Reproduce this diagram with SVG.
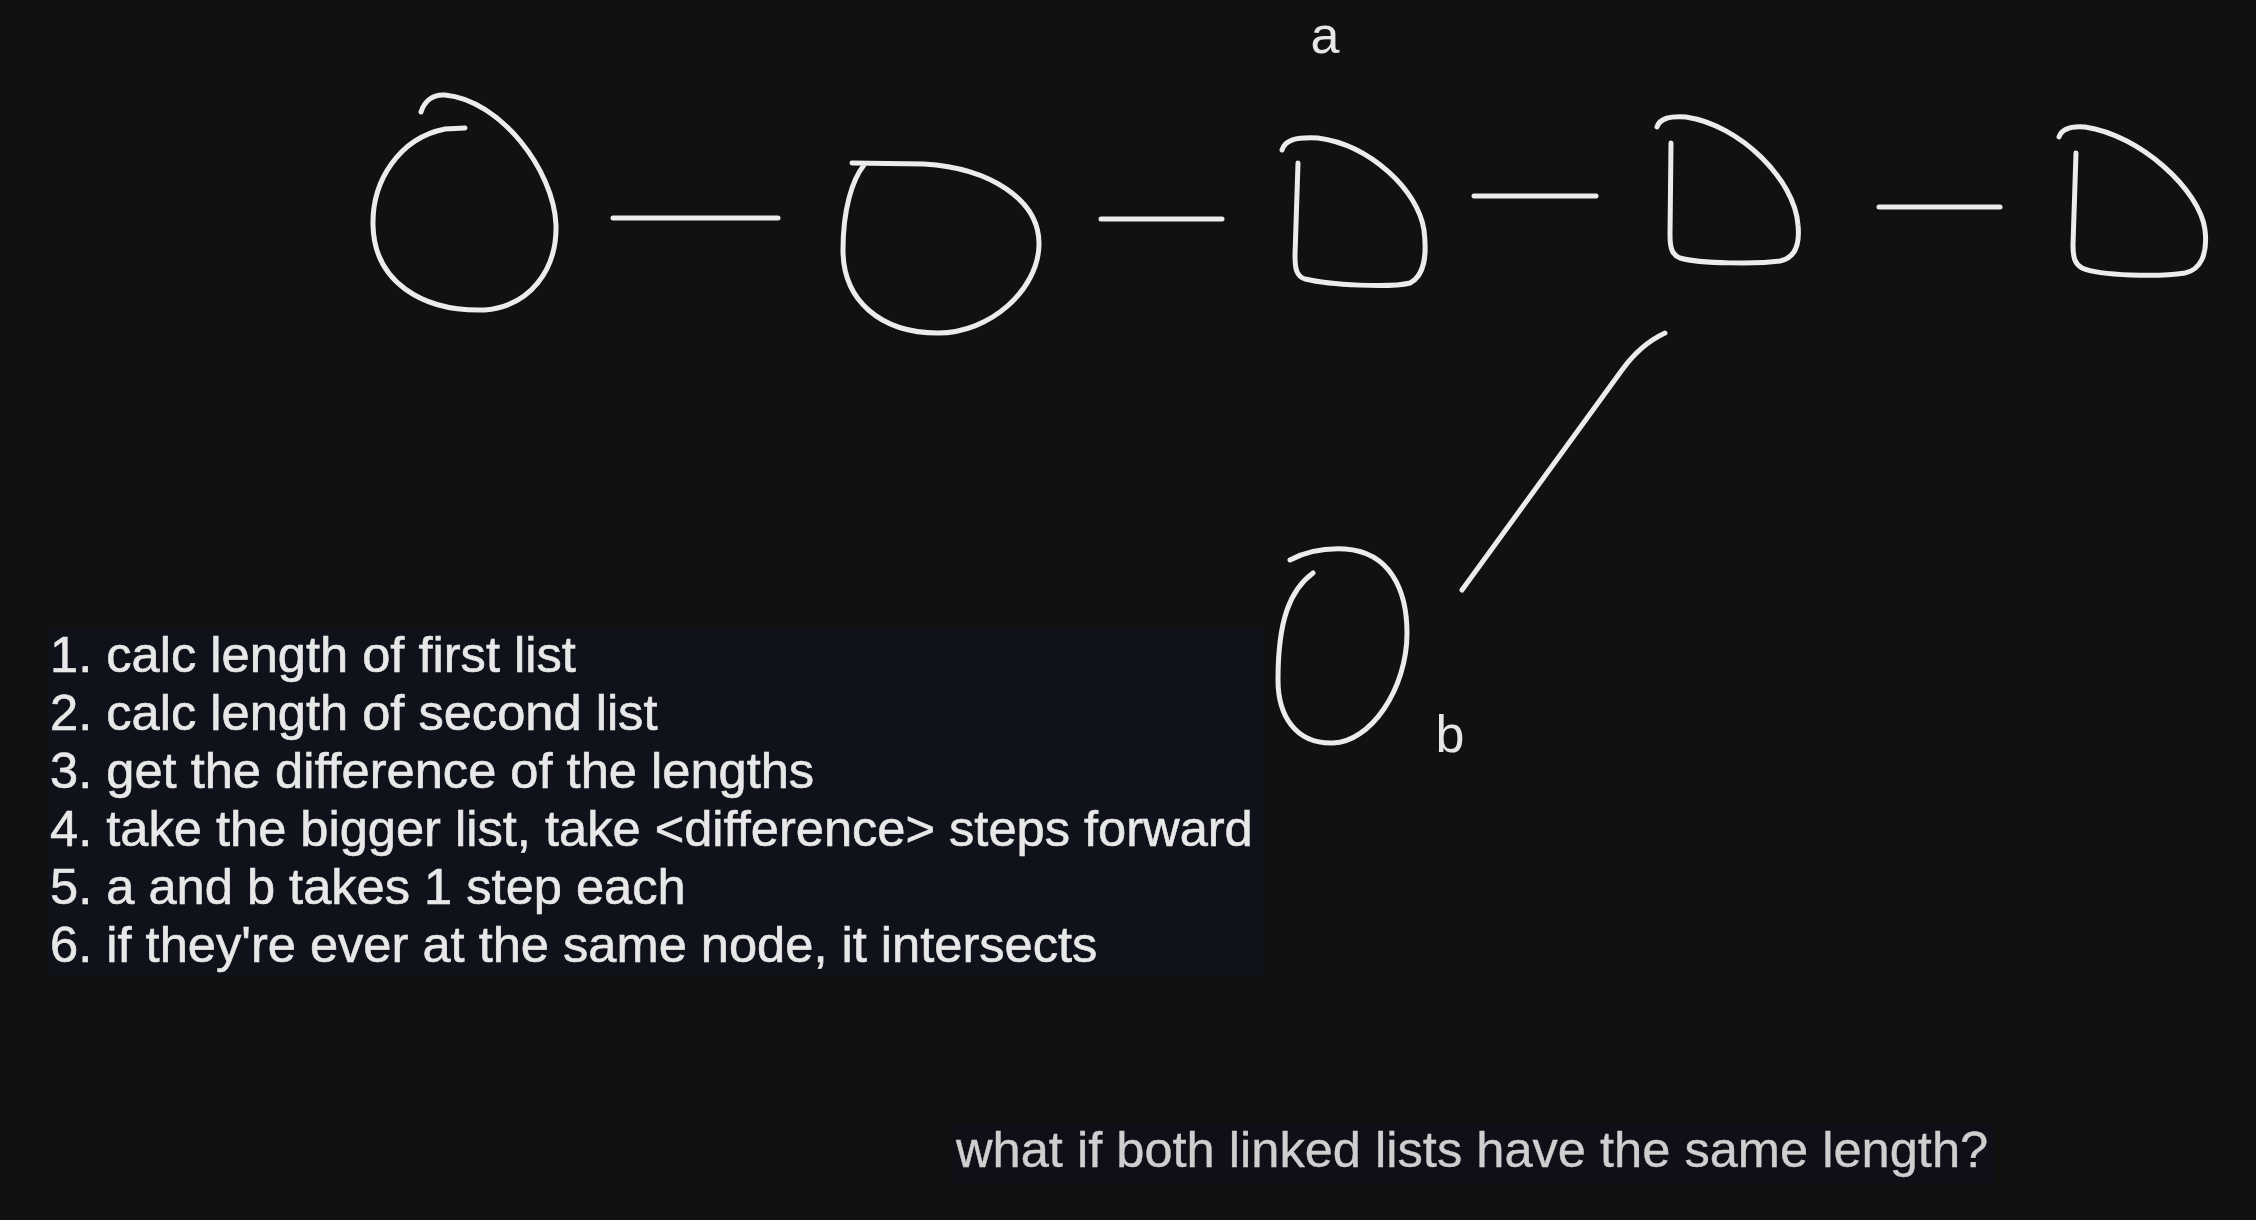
<svg xmlns="http://www.w3.org/2000/svg" width="2256" height="1220" viewBox="0 0 2256 1220">
<style>
.ink{fill:none;stroke:#ececec;stroke-width:5;stroke-linecap:round;stroke-linejoin:round}
.lbl{font-family:"Liberation Sans",Arial,sans-serif;font-size:52px;fill:#e6e6e6}
.step{font-family:"Liberation Sans",Arial,sans-serif;font-size:50.6px;fill:#e8e8e8;stroke:#e8e8e8;stroke-width:0.6}
.q{font-family:"Liberation Sans",Arial,sans-serif;font-size:50.6px;fill:#cfcfcf;stroke:#cfcfcf;stroke-width:0.4}
</style>
<rect width="2256" height="1220" fill="#111111"/>
<rect x="48" y="628" width="1216" height="348" fill="#0f121b"/>
<rect x="952" y="1124" width="1042" height="60" fill="#0f1017"/>
<g id="connectors">
<path class="ink" d="M613,218 L778,218"/>
<path class="ink" d="M1101,219 L1222,219"/>
<path class="ink" d="M1474,196 L1596,196"/>
<path class="ink" d="M1879,207 L2000,207"/>
<path class="ink" d="M1665,333 C1650,340 1635,352 1622,370 L1462,590"/>
</g>
<g id="node1"><path class="ink" d="M465,128 L445,129 C400,138 372,180 373,225 C374,280 420,312 485,310 C530,306 557,270 556,225 C554,170 500,100 445,95 C432,94 424,102 421,112"/></g>
<g id="node2"><path class="ink" d="M852,163 L924,164 C990,168 1040,200 1039,245 C1038,290 990,333 938,333 C880,333 843,300 843,250 C843,210 852,180 864,165"/></g>
<g id="node3"><path class="ink" d="M1282,150 C1285,140 1295,137 1318,138 C1370,145 1418,190 1424,230 C1427,255 1425,275 1410,283 C1390,288 1330,285 1305,279 C1296,276 1295,268 1295,255 L1298,163"/>
<text class="lbl" x="1325" y="53" text-anchor="middle">a</text></g>
<g id="node4"><path class="ink" d="M1657,127 C1660,118 1670,116 1686,117 C1740,125 1795,180 1798,225 C1800,245 1795,258 1780,261 C1760,264 1700,264 1680,258 C1672,255 1670,248 1670,235 L1671,143"/></g>
<g id="node5"><path class="ink" d="M2059,137 C2062,128 2072,126 2085,127 C2140,135 2200,190 2205,230 C2208,255 2200,270 2185,273 C2160,277 2100,276 2082,268 C2075,264 2073,258 2073,245 L2076,153"/></g>
<g id="nodeB"><path class="ink" d="M1290,560 C1305,552 1325,548 1345,549 C1390,552 1407,590 1407,633 C1407,690 1370,742 1333,743 C1295,744 1278,715 1278,680 C1278,620 1290,590 1313,573"/>
<text class="lbl" x="1450" y="752" text-anchor="middle">b</text></g>
<g id="steps">
<text class="step" x="50" y="672">1. calc length of first list</text>
<text class="step" x="50" y="730">2. calc length of second list</text>
<text class="step" x="50" y="788">3. get the difference of the lengths</text>
<text class="step" x="50" y="846">4. take the bigger list, take &lt;difference&gt; steps forward</text>
<text class="step" x="50" y="904">5. a and b takes 1 step each</text>
<text class="step" x="50" y="962">6. if they're ever at the same node, it intersects</text>
</g>
<text class="q" x="956" y="1167">what if both linked lists have the same length?</text>
</svg>
